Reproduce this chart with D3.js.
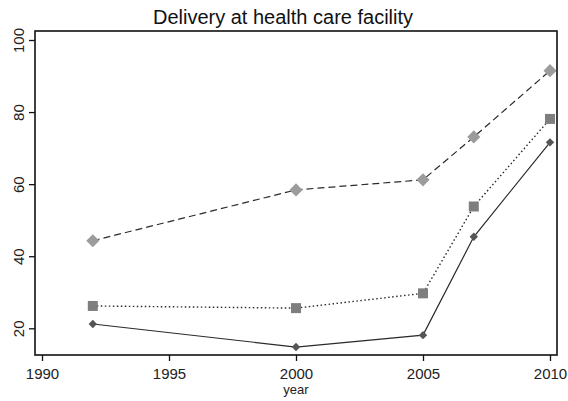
<!DOCTYPE html>
<html><head><meta charset="utf-8">
<script src="https://cdn.jsdelivr.net/npm/d3@7"></script>
<style>body{margin:0;background:#fff}svg{display:block}</style>
</head><body>
<svg id="c" width="568" height="401"></svg>
<script>
const years = [1992, 2000, 2005, 2007, 2010];
const seriesSolid = [21.2, 14.8, 18.1, 45.4, 71.6];
const seriesDotted = [26.2, 25.6, 29.7, 53.8, 78.1];
const seriesDashed = [44.3, 58.4, 61.2, 73.1, 91.5];
const xTicks = [1990, 1995, 2000, 2005, 2010];
const yTicks = [20, 40, 60, 80, 100];
const title = "Delivery at health care facility";
const xLabel = "year";

const svg = d3.select("#c");
const W = 568, H = 401;
const fL = 35, fR = 557, fT = 31, fB = 355;
const x = d3.scaleLinear().domain([1990, 2010]).range([42, 550]);
const y = d3.scaleLinear().domain([20, 100]).range([328.3, 40]);
const FONT = "Liberation Sans, Arial, sans-serif";
const FS = 15;

svg.append("rect").attr("width", W).attr("height", H).attr("fill", "#fff");

svg.append("text").attr("x", 283).attr("y", 24)
  .attr("text-anchor", "middle").attr("font-family", FONT)
  .attr("font-size", 20).attr("fill", "#111").text(title);

const line = d3.line().x((d, i) => x(years[i])).y(d => y(d));
const lineColor = "#2a2a2a";
svg.append("path").datum(seriesDashed).attr("d", line).attr("fill", "none")
  .attr("stroke", lineColor).attr("stroke-width", 1.2).attr("stroke-dasharray", "7,4");
svg.append("path").datum(seriesDotted).attr("d", line).attr("fill", "none")
  .attr("stroke", lineColor).attr("stroke-width", 1.4).attr("stroke-dasharray", "1.5,2.5");
svg.append("path").datum(seriesSolid).attr("d", line).attr("fill", "none")
  .attr("stroke", lineColor).attr("stroke-width", 1.2);

const diamondBig = d3.symbol().type(d3.symbolDiamond2).size(110);
const diamondSmall = d3.symbol().type(d3.symbolDiamond2).size(45);
const square = d3.symbol().type(d3.symbolSquare).size(100);
svg.append("g").selectAll("path").data(seriesDashed).join("path")
  .attr("d", diamondBig).attr("transform", (d, i) => `translate(${x(years[i])},${y(d)})`)
  .attr("fill", "#9c9c9c");
svg.append("g").selectAll("path").data(seriesDotted).join("path")
  .attr("d", square).attr("transform", (d, i) => `translate(${x(years[i])},${y(d)})`)
  .attr("fill", "#7e7e7e");
svg.append("g").selectAll("path").data(seriesSolid).join("path")
  .attr("d", diamondSmall).attr("transform", (d, i) => `translate(${x(years[i])},${y(d)})`)
  .attr("fill", "#555");

// frame
svg.append("rect").attr("x", fL).attr("y", fT).attr("width", fR - fL).attr("height", fB - fT)
  .attr("fill", "none").attr("stroke", "#111").attr("stroke-width", 1.6);

// x axis
const xAxis = svg.append("g").attr("transform", `translate(0,${fB})`)
  .call(d3.axisBottom(x).tickValues(xTicks).tickFormat(d3.format("d")).tickSize(6).tickSizeOuter(0));
xAxis.select(".domain").remove();
xAxis.selectAll("line").attr("stroke", "#111").attr("stroke-width", 1.3);
xAxis.selectAll("text").attr("font-family", FONT)
  .attr("font-size", FS).attr("fill", "#222").attr("y", 24).attr("dy", 0);

// y axis
const yAxis = svg.append("g").attr("transform", `translate(${fL},0)`)
  .call(d3.axisLeft(y).tickValues(yTicks).tickSize(6).tickSizeOuter(0));
yAxis.select(".domain").remove();
yAxis.selectAll("line").attr("stroke", "#111").attr("stroke-width", 1.3);
yAxis.selectAll("text").attr("font-family", FONT)
  .attr("font-size", FS).attr("fill", "#222")
  .attr("text-anchor", "middle").attr("x", 0).attr("dy", 0)
  .attr("transform", "translate(-11,0) rotate(-90)");

svg.append("text").attr("x", x(2000)).attr("y", 394)
  .attr("text-anchor", "middle").attr("font-family", FONT)
  .attr("font-size", 13).attr("fill", "#222").text(xLabel);
</script>
</body></html>
